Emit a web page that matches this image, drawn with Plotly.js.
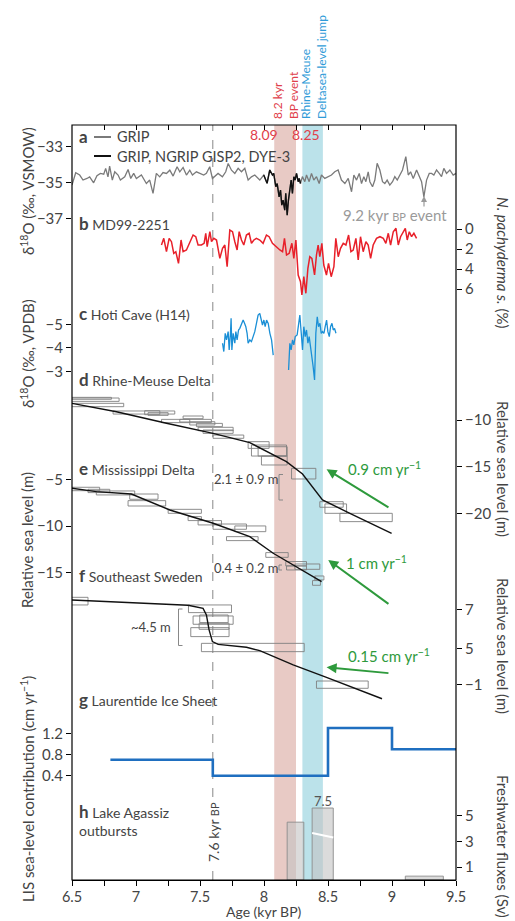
<!DOCTYPE html>
<html><head><meta charset="utf-8">
<script src="https://cdn.plot.ly/plotly-3.0.1.min.js"></script>
<style>html,body{margin:0;padding:0;background:#fff}#chart{width:515px;height:921px}</style>
</head><body><div id="chart"></div>
<script>
// ---------------- DATA ----------------
// a: GRIP (grey) and composite GRIP/NGRIP/GISP2/DYE-3 (black), d18O permil VSMOW
const gripAge1 = [6.5,6.529,6.56,6.586,6.617,6.638,6.669,6.695,6.722,6.748,6.763,6.781,6.794,6.815,6.834,6.86,6.878,6.912,6.938,6.959,6.982,7.003,7.042,7.081,7.107,7.133,7.159,7.185,7.211,7.238,7.264,7.29,7.321,7.342,7.368,7.394,7.42,7.441,7.472,7.498,7.529,7.55,7.576,7.597,7.623,7.641,7.675,7.701,7.72,7.746,7.772,7.798,7.824,7.85,7.876,7.902,7.928,7.967];
const gripVal1 = [-35.13,-34.44,-34.57,-34.85,-34.76,-34.67,-35.0,-34.61,-34.48,-34.52,-34.2,-34.67,-34.07,-34.85,-34.39,-34.57,-34.85,-34.67,-34.26,-34.76,-34.48,-34.76,-34.57,-35.04,-34.85,-35.59,-34.48,-34.67,-34.43,-34.48,-34.3,-34.63,-34.11,-34.39,-34.15,-34.57,-34.3,-34.57,-34.39,-34.48,-34.57,-34.48,-34.11,-34.76,-34.57,-34.48,-34.67,-34.39,-33.93,-34.3,-34.48,-34.2,-34.39,-34.2,-34.85,-34.67,-34.57,-34.85];
const compAge = [7.998,8.024,8.045,8.066,8.076,8.092,8.103,8.118,8.129,8.139,8.149,8.162,8.17,8.181,8.191,8.202,8.212,8.222,8.233,8.243,8.254,8.267,8.275,8.285];
const compVal = [-34.57,-35.03,-34.29,-34.57,-34.48,-35.22,-35.04,-35.78,-35.41,-36.24,-35.96,-36.52,-35.59,-36.8,-35.96,-35.41,-34.85,-35.59,-34.67,-34.85,-34.48,-34.94,-34.76,-35.04];
const gripAge2 = [8.3,8.319,8.332,8.353,8.371,8.389,8.41,8.431,8.449,8.475,8.501,8.527,8.553,8.579,8.605,8.632,8.658,8.684,8.702,8.723,8.744,8.762,8.78,8.796,8.814,8.827,8.848,8.866,8.884,8.905,8.926,8.944,8.962,8.983,9.004,9.022,9.041,9.061,9.082,9.108,9.127,9.145,9.166,9.192,9.213,9.231,9.249,9.27,9.291,9.309,9.327,9.348,9.369,9.387,9.405,9.426,9.452,9.478,9.5];
const gripVal2 = [-34.66,-34.94,-34.57,-34.94,-34.48,-34.85,-34.66,-35.04,-34.57,-34.76,-34.66,-34.57,-34.39,-34.29,-34.85,-35.04,-34.76,-35.5,-34.57,-34.85,-34.48,-35.04,-34.66,-34.94,-34.39,-34.94,-35.22,-34.85,-33.92,-34.29,-34.94,-35.04,-34.85,-35.13,-34.94,-34.66,-34.85,-34.57,-34.29,-33.55,-34.57,-34.39,-34.76,-34.29,-34.66,-34.94,-35.78,-34.85,-34.48,-34.48,-34.57,-34.29,-34.48,-34.66,-34.2,-34.48,-34.29,-34.57,-34.48];

// b: MD99-2251 N. pachyderma s. (%)
const mdAge = [7.199,7.217,7.238,7.259,7.277,7.295,7.311,7.332,7.352,7.368,7.394,7.42,7.446,7.467,7.485,7.511,7.532,7.545,7.556,7.577,7.59,7.608,7.629,7.655,7.676,7.694,7.712,7.733,7.754,7.772,7.79,7.806,7.824,7.842,7.863,7.884,7.902,7.921,7.941,7.967,7.993,8.019,8.04,8.066,8.092,8.124,8.145,8.16,8.176,8.197,8.218,8.233,8.249,8.267,8.285,8.296,8.311,8.327,8.343,8.358,8.374,8.395,8.41,8.423,8.436,8.452,8.467,8.488,8.504,8.525,8.546,8.561,8.58,8.598,8.619,8.64,8.661,8.679,8.697,8.718,8.736,8.754,8.775,8.796,8.814,8.833,8.853,8.879,8.906,8.932,8.952,8.971,8.989,9.01,9.031,9.049,9.067,9.088,9.104,9.119,9.135,9.153,9.171,9.192];
const mdVal = [1.6,0.93,2.27,0.93,1.27,2.43,2.27,3.43,1.1,2.27,2.1,1.27,0.6,0.77,1.6,1.6,1.43,0.43,1.77,0.27,1.27,0.93,1.1,2.93,1.93,1.6,3.77,0.1,0.27,1.27,2.1,0.27,1.1,1.6,0.6,0.43,1.43,1.1,0.93,1.1,1.43,0.6,0.77,1.43,1.77,2.1,2.27,0.93,2.6,2.43,1.43,2.93,1.1,4.6,5.27,6.6,4.77,6.43,3.93,2.77,2.93,4.6,2.6,1.6,2.77,1.43,3.6,4.6,3.43,4.77,3.77,0.93,2.77,1.93,1.43,1.6,0.6,2.27,2.1,0.93,3.1,0.77,2.27,1.27,1.6,2.93,1.6,0.93,0.77,0.93,1.43,0.43,1.6,0.27,-0.07,1.6,0.77,0.27,-0.07,1.1,0.27,0.77,0.43,0.93];

// c: Hoti Cave (H14) d18O permil VPDB (null = hiatus)
const hotiAge = [7.676,7.686,7.697,7.707,7.72,7.728,7.738,7.743,7.749,7.759,7.772,7.78,7.79,7.801,7.811,7.824,7.837,7.848,7.858,7.868,7.876,7.889,7.902,7.915,7.928,7.941,7.954,7.967,7.978,7.988,7.999,8.009,8.02,8.033,8.046,8.059,8.072,8.13,8.192,8.202,8.212,8.223,8.233,8.244,8.259,8.27,8.28,8.291,8.301,8.311,8.322,8.332,8.343,8.353,8.364,8.374,8.384,8.395,8.405,8.416,8.426,8.437,8.447,8.457,8.468,8.478,8.489,8.499,8.51,8.52,8.531,8.541,8.551,8.562];
const hotiVal = [-4.2,-3.85,-4.62,-4.34,-4.69,-3.92,-4.62,-5.25,-3.92,-4.62,-4.2,-4.69,-4.34,-4.76,-4.83,-5.04,-5.18,-5.04,-4.9,-4.62,-4.2,-4.34,-4.27,-4.48,-4.69,-5.04,-5.39,-5.46,-5.25,-4.97,-5.18,-4.9,-5.18,-5.04,-4.62,-4.34,-3.7,null,-3.07,-4.2,-3.92,-4.34,-4.13,-4.48,-4.55,-4.9,-5.39,-4.62,-3.92,-4.9,-4.48,-4.76,-4.2,-4.48,-4.06,-3.78,-3.21,-2.65,-4.62,-5.32,-4.9,-5.04,-4.62,-4.69,-4.62,-4.9,-5.18,-4.69,-4.48,-4.9,-5.04,-4.76,-4.83,-4.62];

// d: Rhine-Meuse Delta relative sea level (m)
const dCurveAge = [6.5,6.847,7.238,7.602,7.889,8.071,8.175,8.301,8.384,8.457,8.671,8.997];
const dCurveVal = [-8.21,-9.11,-10.35,-11.43,-12.43,-13.75,-14.46,-15.78,-17.32,-18.57,-20.0,-22.14];
const dBoxAge0 = [6.498,6.498,6.498,6.821,7.068,7.094,7.199,7.368,7.342,7.42,7.472,7.485,7.524,7.602,7.876,7.902,7.954,7.98,8.215,8.436,8.476,8.593];
const dBoxAge1 = [6.808,6.868,6.904,7.303,7.186,7.251,7.589,7.524,7.42,7.616,7.675,7.759,7.759,7.842,8.04,8.176,8.181,8.181,8.405,8.619,8.645,9.002];
const dBoxHi   = [-7.57,-7.64,-8.21,-9.03,-9.0,-9.21,-9.93,-9.57,-9.93,-10.18,-10.36,-10.78,-11.07,-11.61,-12.32,-12.68,-12.86,-13.86,-15.18,-18.75,-18.99,-20.0];
const dBoxLo   = [-7.78,-8.0,-8.57,-9.36,-9.43,-9.5,-10.28,-9.86,-10.21,-10.53,-10.71,-11.14,-11.43,-11.96,-13.04,-13.86,-13.86,-14.82,-16.32,-19.35,-20.0,-20.89];

// e: Mississippi Delta relative sea level (m)
const eCurveAge = [6.498,6.69,6.964,7.264,7.603,7.889,8.072,8.254,8.45];
const eCurveVal = [-5.9,-6.26,-6.52,-8.25,-9.69,-11.14,-12.94,-14.46,-16.01];
const eBoxAge0 = [6.498,6.625,6.69,6.951,6.938,7.251,7.407,7.485,7.602,7.772,7.707,8.014,8.17,8.176,8.241,8.397,8.379];
const eBoxAge1 = [6.716,6.795,6.99,7.172,7.232,7.511,7.511,7.668,7.863,8.014,7.954,8.189,8.332,8.332,8.436,8.468,8.441];
const eBoxHi   = [-5.79,-6.01,-6.19,-6.52,-7.24,-8.18,-8.97,-9.4,-9.77,-9.98,-11.14,-12.87,-13.84,-14.31,-14.1,-15.4,-15.9];
const eBoxLo   = [-6.16,-6.37,-6.62,-7.09,-7.82,-8.61,-9.4,-9.87,-10.34,-10.6,-11.57,-13.38,-14.31,-14.75,-14.68,-15.83,-16.41];

// f: Southeast Sweden relative sea level (m)
const fCurveAge = [6.5,7.407,7.524,7.55,7.571,7.597,7.642,7.863,7.967,8.228,8.488,8.922];
const fCurveVal = [8.22,7.57,7.2,6.39,4.57,3.15,2.82,2.46,2.05,0.31,-1.19,-3.8];
const fBoxAge0 = [6.47,7.41,7.446,7.498,7.493,7.428,7.511,8.41];
const fBoxAge1 = [6.625,7.746,7.759,7.72,7.727,7.727,8.314,8.814];
const fBoxHi   = [8.54,7.61,6.27,6.39,5.38,4.85,2.94,-1.64];
const fBoxLo   = [7.61,6.68,5.26,5.46,4.65,3.76,1.93,-2.53];
const fTickVals = [7, 2.34, -2.04];
const fTickText = ['7', '5', '\u22121'];

// g: Laurentide Ice Sheet sea-level contribution (cm/yr), step boundaries
const gAge  = [6.8, 7.6, 8.5, 9.0, 9.5];
const gRate = [0.7, 0.4, 1.3, 0.9];

// h: Lake Agassiz outbursts, freshwater fluxes (Sv)
const hStart = [8.181, 8.376, 9.104];
const hEnd   = [8.311, 8.541, 9.401];
const hFlux  = [4.5, 7.5, 0.3];
const hCap   = 5.6;   // axis break

// event bands and markers (kyr BP)
const eventStart = [8.08, 8.30];
const eventEnd   = [8.25, 8.46];
const eventColor = ['rgb(232,202,197)', 'rgb(187,226,234)'];
const eventLabel = ['8.09', '8.25'];
const markerAge = 7.6;

// ---------------- HELPERS ----------------
const L = 72, R = 59, T = 125, B = 41, W = 515, H = 921;
const PW = W - L - R, PH = H - T - B;
const XP = xpx => (xpx - L) / PW;          // pixel -> paper x
const YP = ypx => (H - B - ypx) / PH;      // pixel -> paper y
const FONT = 'Lato, "Open Sans", sans-serif';

function boxes(a0, a1, lo, hi) {
  const xs = [], ys = [];
  for (let i = 0; i < a0.length; i++) {
    xs.push(a0[i], a1[i], a1[i], a0[i], a0[i], null);
    ys.push(lo[i], lo[i], hi[i], hi[i], lo[i], null);
  }
  return {xs, ys};
}
const db = boxes(dBoxAge0, dBoxAge1, dBoxLo, dBoxHi);
const eb = boxes(eBoxAge0, eBoxAge1, eBoxLo, eBoxHi);
const fb = boxes(fBoxAge0, fBoxAge1, fBoxLo, fBoxHi);

const gY = gRate.concat([gRate[gRate.length - 1]]);

const traces = [
  {x: gripAge1.concat(compAge, gripAge2), y: gripVal1.concat(compVal, gripVal2), yaxis: 'y', mode: 'lines', line: {color: '#7a7a7a', width: 1.3}},
  {x: compAge, y: compVal, yaxis: 'y', mode: 'lines', line: {color: '#111', width: 1.4}},
  {x: mdAge, y: mdVal, yaxis: 'y2', mode: 'lines', line: {color: '#e8202a', width: 1.5}},
  {x: hotiAge, y: hotiVal, yaxis: 'y3', mode: 'lines', connectgaps: false, line: {color: '#1a8fd6', width: 1.3}},
  {x: db.xs, y: db.ys, yaxis: 'y4', mode: 'lines', line: {color: '#808080', width: 0.9}},
  {x: dCurveAge, y: dCurveVal, yaxis: 'y4', mode: 'lines', line: {color: '#111', width: 1.4}},
  {x: eb.xs, y: eb.ys, yaxis: 'y5', mode: 'lines', line: {color: '#808080', width: 0.9}},
  {x: eCurveAge, y: eCurveVal, yaxis: 'y5', mode: 'lines', line: {color: '#111', width: 1.4}},
  {x: fb.xs, y: fb.ys, yaxis: 'y6', mode: 'lines', line: {color: '#808080', width: 0.9}},
  {x: fCurveAge, y: fCurveVal, yaxis: 'y6', mode: 'lines', line: {color: '#111', width: 1.4}},
  {x: gAge, y: gY, yaxis: 'y7', mode: 'lines', line: {color: '#1f6fc0', width: 2.6, shape: 'hv'}},
  {type: 'bar', x: hStart.map((s, i) => (s + hEnd[i]) / 2), width: hStart.map((s, i) => hEnd[i] - s),
   y: hFlux.map(v => Math.min(v, hCap)), yaxis: 'y8',
   marker: {color: 'rgba(195,195,195,0.6)', line: {color: 'rgba(140,140,140,0.9)', width: 1}}},
  {x: [hStart[1], hEnd[1]], y: [3.65, 3.3], yaxis: 'y8', mode: 'lines', line: {color: '#fff', width: 2}},
  {x: [7], y: [null], xaxis: 'x2', yaxis: 'y', mode: 'lines'}
];
traces.forEach(t => { t.showlegend = false; t.hoverinfo = 'skip'; if (!t.xaxis) t.xaxis = 'x'; });

function yax(side, range, tickvals, extra) {
  return Object.assign({
    domain: [0, 1], anchor: 'x', side: side, range: range, tickvals: tickvals,
    ticks: 'outside', ticklen: 5, tickwidth: 1, tickcolor: '#000',
    showgrid: false, zeroline: false, showline: false, fixedrange: true,
    tickfont: {family: FONT, size: 15, color: '#444'}
  }, extra || {});
}

// axis ranges derived from tick pixel positions
const layout = {
  width: W, height: H,
  margin: {l: L, r: R, t: T, b: B, pad: 0},
  paper_bgcolor: '#fff', plot_bgcolor: 'rgba(0,0,0,0)',
  font: {family: FONT, color: '#444'},
  barmode: 'overlay',
  xaxis: {range: [6.5, 9.5], tick0: 6.5, dtick: 0.5, ticks: 'outside', ticklen: 5, tickcolor: '#000',
    ticklabelstandoff: -2,
    minor: {tick0: 6.5, dtick: 0.25, ticks: 'outside', ticklen: 5, tickcolor: '#000'},
    showline: true, linecolor: '#000', linewidth: 1.2, showgrid: false, zeroline: false, fixedrange: true,
    tickfont: {family: FONT, size: 14.5, color: '#444'}},
  xaxis2: {overlaying: 'x', side: 'top', anchor: 'y', range: [6.5, 9.5], tick0: 6.5, dtick: 0.25,
    ticks: 'inside', ticklen: 5, tickcolor: '#000', showticklabels: false, showgrid: false, zeroline: false, showline: false},
  yaxis:  yax('left',  [-73.74, -31.79], [-37, -35, -33]),
  yaxis2: yax('right', [65.1, -10.4], [0, 2, 4, 6], {overlaying: 'y'}),
  yaxis3: yax('left',  [18.45, -13.41], [-5, -4, -3], {overlaying: 'y'}),
  yaxis4: yax('right', [-59.3, 21.62], [-20, -15, -10], {overlaying: 'y'}),
  yaxis5: yax('left',  [-48.34, 33.46], [-15, -10, -5], {overlaying: 'y'}),
  yaxis6: yax('right', [-25.85, 66.0], fTickVals, {overlaying: 'y', ticktext: fTickText}),
  yaxis7: yax('left',  [-1.568, 12.677], [0.4, 0.8, 1.2], {overlaying: 'y'}),
  yaxis8: yax('right', [0, 58.75], [1, 3, 5], {overlaying: 'y'}),
  shapes: [], annotations: []
};

// bands
eventStart.forEach((s, i) => layout.shapes.push({type: 'rect', xref: 'x', yref: 'paper', x0: s, x1: eventEnd[i], y0: 0, y1: 1,
  fillcolor: eventColor[i], line: {width: 0}, layer: 'below'}));
// dashed 7.6 kyr line (gap for label)
layout.shapes.push({type: 'line', xref: 'x', yref: 'paper', x0: markerAge, x1: markerAge, y0: YP(797), y1: 1, line: {color: '#888', width: 1, dash: 'dash'}, layer: 'below'});
layout.shapes.push({type: 'line', xref: 'x', yref: 'paper', x0: markerAge, x1: markerAge, y0: 0, y1: YP(864), line: {color: '#888', width: 1, dash: 'dash'}, layer: 'below'});
// frame
layout.shapes.push({type: 'rect', xref: 'paper', yref: 'paper', x0: 0, x1: 1, y0: 0, y1: 1, line: {color: '#000', width: 1.2}, layer: 'above'});
// legend samples
layout.shapes.push({type: 'line', xref: 'paper', yref: 'paper', x0: XP(94), x1: XP(111), y0: YP(137), y1: YP(137), line: {color: '#7a7a7a', width: 2}});
layout.shapes.push({type: 'line', xref: 'paper', yref: 'paper', x0: XP(94), x1: XP(111), y0: YP(156), y1: YP(156), line: {color: '#111', width: 2}});
// brackets
function bracket(x, y0, y1, dx) {
  layout.shapes.push({type: 'path', xref: 'paper', yref: 'paper',
    path: `M ${XP(x + dx)} ${YP(y0)} L ${XP(x)} ${YP(y0)} L ${XP(x)} ${YP(y1)} L ${XP(x + dx)} ${YP(y1)}`,
    line: {color: '#888', width: 1}});
}
bracket(279, 474.5, 500, 4);
bracket(178.5, 609, 645.5, 4);
bracket(279, 565, 570, 3);

const A = layout.annotations;
function txt(xpx, ypx, text, o) {
  A.push(Object.assign({xref: 'paper', yref: 'paper', x: XP(xpx), y: YP(ypx), text: text, showarrow: false,
    xanchor: 'left', yanchor: 'middle', font: {family: FONT, size: 14, color: '#444'}}, o || {}));
}
const big = s => `<span style="font-size:17px"><b>${s}</b></span>`;
const small = s => `<span style="font-size:11px">${s}</span>`;

// panel labels
txt(77, 137, big('a'));
txt(115, 137, 'GRIP', {font: {family: FONT, size: 14.5, color: '#444'}});
txt(115, 156, 'GRIP, NGRIP GISP2, DYE-3', {font: {family: FONT, size: 14.5, color: '#444'}});
txt(77, 223, big('b') + ' MD99-2251');
txt(77, 313, big('c') + ' Hoti Cave (H14)');
txt(77, 379, big('d') + ' Rhine-Meuse Delta');
txt(77, 468, big('e') + ' Mississippi Delta');
txt(77, 575, big('f') + ' Southeast Sweden');
txt(77, 699, big('g') + ' Laurentide Ice Sheet');
txt(77, 820, big('h') + ' Lake Agassiz<br>outbursts', {align: 'left'});

// event labels
txt(264, 135, eventLabel[0], {xanchor: 'center', font: {family: FONT, size: 14, color: '#e0404a'}});
txt(306, 135, eventLabel[1], {xanchor: 'center', font: {family: FONT, size: 14, color: '#e0404a'}});
txt(285, 121, '8.2 kyr<br>BP event', {xanchor: 'center', yanchor: 'bottom', textangle: -90, align: 'left',
  font: {family: FONT, size: 12, color: '#e0404a'}});
txt(313, 121, 'Rhine-Meuse<br>Deltasea-level jump', {xanchor: 'center', yanchor: 'bottom', textangle: -90, align: 'left',
  font: {family: FONT, size: 12, color: '#2f9bd8'}});

// 9.2 kyr event
txt(449, 215, '9.2 kyr ' + small('BP') + ' event', {xanchor: 'right', font: {family: FONT, size: 15, color: '#9a9a9a'}});
A.push({xref: 'paper', yref: 'paper', x: XP(424), y: YP(196), ax: 0, ay: 12, text: '', showarrow: true,
  arrowhead: 2, arrowsize: 1, arrowwidth: 1.2, arrowcolor: '#9a9a9a'});

// 7.6 kyr label
txt(213, 832, '7.6 kyr ' + small('BP'), {xanchor: 'center', textangle: -90, font: {family: FONT, size: 14, color: '#444'}});
// 7.5 label
txt(323, 801, String(hFlux[1]), {xanchor: 'center', font: {family: FONT, size: 13, color: '#555'}});

// amplitude labels
txt(212, 479, '2.1 ± 0.9 m', {font: {family: FONT, size: 13, color: '#444'}});
txt(212, 568, '0.4 ± 0.2 m', {font: {family: FONT, size: 13, color: '#444'}});
txt(173, 627, '~4.5 m', {xanchor: 'right', font: {family: FONT, size: 13, color: '#444'}});

// green rate arrows (tail -> head in data coords)
const green = '#2e9a3c';
function rateArrow(yref, hx, hy, tx, ty) {
  A.push({xref: 'x', yref: yref, axref: 'x', ayref: yref, x: hx, y: hy, ax: tx, ay: ty, text: '', showarrow: true,
    arrowhead: 2, arrowsize: 1, arrowwidth: 2, arrowcolor: green});
}
rateArrow('y4', 8.489, -15.28, 8.984, -19.46);
rateArrow('y5', 8.502, -13.67, 8.984, -18.54);
rateArrow('y6', 8.489, 0.03, 8.984, -0.70);
txt(346, 468, '0.9 cm yr<sup>\u22121</sup>', {font: {family: FONT, size: 15, color: green}});
txt(344, 562, '1 cm yr<sup>\u22121</sup>', {font: {family: FONT, size: 15, color: green}});
txt(346, 655, '0.15 cm yr<sup>\u22121</sup>', {font: {family: FONT, size: 15, color: green}});

// axis titles
const tf = {family: FONT, size: 15, color: '#444'};
txt(27, 191, 'δ<sup>18</sup>O (‰, VSMOW)', {xanchor: 'center', textangle: -90, font: tf});
txt(27, 354, 'δ<sup>18</sup>O (‰, VPDB)', {xanchor: 'center', textangle: -90, font: tf});
txt(27, 540, 'Relative sea level (m)', {xanchor: 'center', textangle: -90, font: tf});
txt(27, 789, 'LIS sea-level contribution (cm yr<sup>\u22121</sup>)', {xanchor: 'center', textangle: -90, font: tf});
txt(503, 262, '<i>N. pachyderma s.</i> (%)', {xanchor: 'center', textangle: 90, font: tf});
txt(503, 469, 'Relative sea level (m)', {xanchor: 'center', textangle: 90, font: tf});
txt(503, 646, 'Relative sea level (m)', {xanchor: 'center', textangle: 90, font: tf});
txt(503, 846, 'Freshwater fluxes (Sv)', {xanchor: 'center', textangle: 90, font: tf});
txt(264, 921, 'Age (kyr BP)', {xanchor: 'center', yanchor: 'bottom', borderpad: 0, font: {family: FONT, size: 14, color: '#444'}});

Plotly.newPlot('chart', traces, layout, {displayModeBar: false, staticPlot: true});
</script></body></html>
